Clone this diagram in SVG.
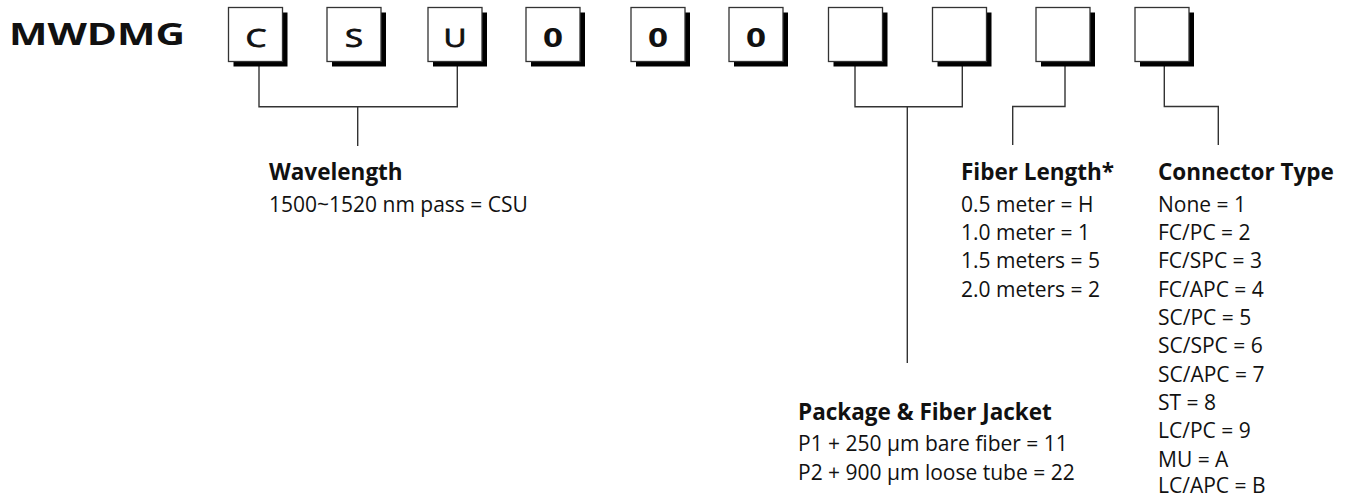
<svg xmlns="http://www.w3.org/2000/svg" width="1354" height="497" viewBox="0 0 1354 497">
<style>
.shadow{fill:#000}
.box{fill:#fff;stroke:#333;stroke-width:1.3}
.code{font-family:"Open Sans","Liberation Sans",sans-serif;font-size:26px;fill:#111;stroke:#111;stroke-width:0.8;text-anchor:middle}
.zero{font-weight:700;stroke:none}
.conn{fill:none;stroke:#333;stroke-width:1.4}
.title{font-family:"Open Sans","Liberation Sans",sans-serif;font-size:22.5px;font-weight:700;fill:#111}
.body{font-family:"Open Sans","Liberation Sans",sans-serif;font-size:21px;fill:#111}
.brand{font-family:"Open Sans","Liberation Sans",sans-serif;font-size:31px;font-weight:700;fill:#111}
</style>
<rect width="1354" height="497" fill="#fff"/>
<text id="brand" class="brand" x="9" y="45" textLength="176" lengthAdjust="spacingAndGlyphs">MWDMG</text>
<g id="connectors">
<path class="conn" d="M259,62 V106.7 H457.3 V62"/>
<path class="conn" d="M357.7,106.7 V146"/>
<path class="conn" d="M855,62 V106.7 H962.3 V62"/>
<path class="conn" d="M907.3,106.7 V363"/>
<path class="conn" d="M1065,62 V106.5 H1012.7 V145"/>
<path class="conn" d="M1164.3,62 V106.5 H1218.3 V145"/>
</g>
<g id="box1"><rect class="shadow" x="233.5" y="12.5" width="54" height="54"/><rect class="box" x="228.5" y="7.5" width="54" height="54"/><text class="code" x="256" y="46.5" textLength="21" lengthAdjust="spacingAndGlyphs">C</text></g>
<g id="box2"><rect class="shadow" x="332" y="12.5" width="54" height="54"/><rect class="box" x="327" y="7.5" width="54" height="54"/><text class="code" x="354" y="46.5" textLength="18" lengthAdjust="spacingAndGlyphs">S</text></g>
<g id="box3"><rect class="shadow" x="433" y="12.5" width="54" height="54"/><rect class="box" x="428" y="7.5" width="54" height="54"/><text class="code" x="455" y="46.5" textLength="23" lengthAdjust="spacingAndGlyphs">U</text></g>
<g id="box4"><rect class="shadow" x="531" y="12.5" width="54" height="54"/><rect class="box" x="526" y="7.5" width="54" height="54"/><text class="code zero" x="553" y="46.5" textLength="20" lengthAdjust="spacingAndGlyphs">0</text></g>
<g id="box5"><rect class="shadow" x="636" y="12.5" width="54" height="54"/><rect class="box" x="631" y="7.5" width="54" height="54"/><text class="code zero" x="658" y="46.5" textLength="20" lengthAdjust="spacingAndGlyphs">0</text></g>
<g id="box6"><rect class="shadow" x="734" y="12.5" width="54" height="54"/><rect class="box" x="729" y="7.5" width="54" height="54"/><text class="code zero" x="756" y="46.5" textLength="20" lengthAdjust="spacingAndGlyphs">0</text></g>
<g id="box7"><rect class="shadow" x="833.5" y="12.5" width="54" height="54"/><rect class="box" x="828.5" y="7.5" width="54" height="54"/></g>
<g id="box8"><rect class="shadow" x="937.5" y="12.5" width="54" height="54"/><rect class="box" x="932.5" y="7.5" width="54" height="54"/></g>
<g id="box9"><rect class="shadow" x="1041" y="12.5" width="54" height="54"/><rect class="box" x="1036" y="7.5" width="54" height="54"/></g>
<g id="box10"><rect class="shadow" x="1140" y="12.5" width="54" height="54"/><rect class="box" x="1135" y="7.5" width="54" height="54"/></g>
<g id="wavelength">
<text class="title" x="269" y="180">Wavelength</text>
<text class="body" x="269" y="211.5">1500~1520 nm pass = CSU</text>
</g>
<g id="fiber-length">
<text class="title" x="961" y="180">Fiber Length*</text>
<text class="body" x="961" y="211.5">0.5 meter = H</text>
<text class="body" x="961" y="240">1.0 meter = 1</text>
<text class="body" x="961" y="268.3">1.5 meters = 5</text>
<text class="body" x="961" y="296.6">2.0 meters = 2</text>
</g>
<g id="connector-type">
<text class="title" x="1158" y="180">Connector Type</text>
<text class="body" x="1158" y="211.5">None = 1</text>
<text class="body" x="1158" y="240">FC/PC = 2</text>
<text class="body" x="1158" y="268.3">FC/SPC = 3</text>
<text class="body" x="1158" y="296.6">FC/APC = 4</text>
<text class="body" x="1158" y="325">SC/PC = 5</text>
<text class="body" x="1158" y="353.3">SC/SPC = 6</text>
<text class="body" x="1158" y="381.6">SC/APC = 7</text>
<text class="body" x="1158" y="410">ST = 8</text>
<text class="body" x="1158" y="438.3">LC/PC = 9</text>
<text class="body" x="1158" y="466.6">MU = A</text>
<text class="body" x="1158" y="493">LC/APC = B</text>
</g>
<g id="package">
<text class="title" x="798" y="420">Package &amp; Fiber Jacket</text>
<text class="body" x="798" y="451">P1 + 250 µm bare fiber = 11</text>
<text class="body" x="798" y="479.5">P2 + 900 µm loose tube = 22</text>
</g>
</svg>
